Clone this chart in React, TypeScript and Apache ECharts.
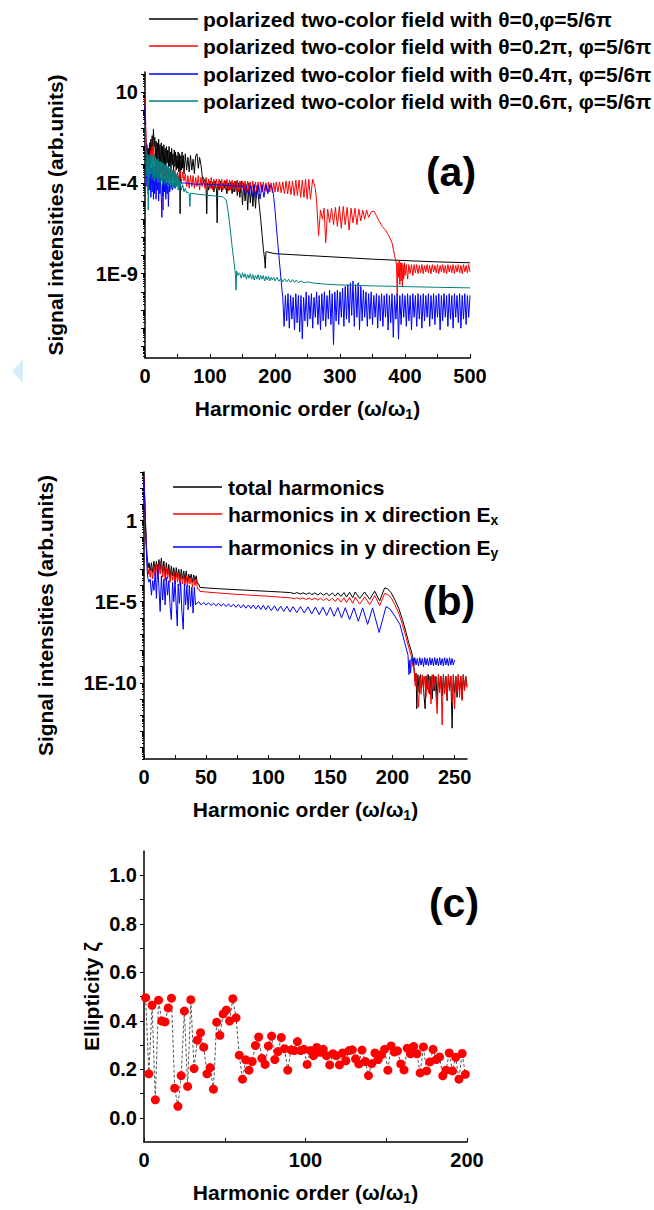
import React, { useEffect, useRef } from "react";
import * as echarts from "echarts";

const FONT = '"Liberation Sans", Arial, Helvetica, sans-serif';

// ================= Panel (a): log10 of signal intensity vs harmonic order =================
const aNames = [
  "polarized two-color field with θ=0,φ=5/6π",
  "polarized two-color field with θ=0.2π, φ=5/6π",
  "polarized two-color field with θ=0.4π, φ=5/6π",
  "polarized two-color field with θ=0.6π, φ=5/6π",
];
const aColors = ["#000000", "#ff0000", "#0000ff", "#008080"];
const aXTicks = [0, 50, 100, 150, 200, 250, 300, 350, 400, 450, 500];
const aXLabels = [0, 100, 200, 300, 400, 500];
const aYLabels = [1, -4, -9];
const aYTicks = [2, 1, 0, -1, -2, -3, -4, -5, -6, -7, -8, -9, -10, -11, -12, -13];

const aLogTheta0 = [
  [0, 0.4], [1, -1.2], [2, -2.7], [3, -1.9], [4, -2.9], [5, -2.1], [6, -3.1], [7, -1.8], [8, -2.8], [9, -1.6],
  [10, -2.6], [11, -1.4], [12, -2.2], [13, -1.05], [14, -2.0], [15, -1.5], [16, -2.6], [17, -1.7], [18, -2.8], [19, -1.8],
  [20, -2.9], [21, -1.6], [22, -3.0], [23, -1.9], [24, -3.2], [25, -1.8], [26, -2.9], [27, -2.0], [28, -3.3], [29, -1.9],
  [30, -3.0], [31, -2.1], [32, -3.4], [33, -2.0], [34, -2.9], [35, -2.2], [36, -3.2], [37, -2.0], [38, -3.1], [39, -2.3],
  [40, -3.3], [41, -2.1], [42, -3.0], [43, -2.4], [44, -3.4], [45, -2.2], [46, -3.1], [47, -2.3], [48, -3.3], [49, -2.5],
  [50, -3.2], [51, -2.3], [52, -3.4], [53, -2.4], [54, -5.7], [55, -2.5], [56, -3.3], [57, -2.3], [58, -3.2], [59, -2.5],
  [60, -3.5], [62, -2.4], [64, -3.3], [66, -2.6], [68, -3.4], [70, -2.5], [72, -3.3], [74, -2.7], [76, -3.5], [78, -2.5],
  [80, -2.4], [82, -3.2], [84, -2.6], [86, -3.0], [88, -3.6], [90, -4.0], [92, -3.8], [94, -4.3], [95, -5.7], [96, -4.0],
  [98, -4.4], [100, -3.9], [102, -4.3], [104, -3.95], [106, -4.5], [108, -3.9], [110, -4.4], [111, -6.2], [112, -4.1], [114, -4.4],
  [116, -3.9], [118, -4.5], [120, -4.0], [122, -4.3], [124, -3.9], [126, -4.6], [128, -4.0], [130, -4.4], [132, -3.95], [134, -4.6],
  [136, -4.0], [138, -4.5], [140, -3.9], [142, -4.7], [144, -4.0], [146, -4.8], [148, -3.9], [150, -5.2], [152, -4.0], [154, -5.0],
  [156, -4.1], [158, -5.5], [160, -4.0], [162, -5.1], [164, -4.2], [166, -5.3], [168, -4.1], [170, -5.4], [172, -4.2], [174, -4.6],
  [176, -5.3], [178, -6.0], [180, -6.8], [182, -7.6], [184, -8.2], [185, -8.7], [186, -7.8], [188, -7.8], [200, -7.9], [225, -7.95],
  [250, -8.0], [300, -8.1], [350, -8.2], [400, -8.28], [450, -8.35], [500, -8.4],
];

const aLogTheta02 = [
  [0, 0.67], [1, -0.6], [2, -2.2], [3, -2.6], [4, -3.2], [5, -2.8], [6, -3.3], [7, -2.4], [8, -3.1], [9, -2.2],
  [10, -2.9], [11, -2.0], [12, -2.6], [13, -1.65], [14, -2.8], [15, -2.4], [16, -3.3], [17, -2.7], [18, -3.5], [19, -2.8],
  [20, -3.4], [21, -3.0], [22, -3.6], [23, -3.0], [24, -3.5], [25, -3.1], [26, -3.7], [27, -3.1], [28, -5.5], [29, -3.2],
  [30, -3.6], [31, -3.1], [32, -3.8], [33, -3.2], [34, -3.6], [35, -3.2], [36, -3.9], [37, -3.3], [38, -3.7], [39, -3.2],
  [40, -3.9], [42, -3.3], [44, -3.8], [46, -3.3], [48, -4.0], [50, -3.4], [52, -3.8], [54, -3.3], [56, -4.0], [58, -3.4],
  [60, -3.9], [62, -3.5], [64, -4.2], [66, -3.6], [68, -4.3], [70, -3.6], [72, -4.2], [74, -3.6], [76, -4.3], [78, -3.7],
  [80, -4.2], [82, -3.6], [84, -4.4], [86, -3.7], [88, -4.2], [90, -3.7], [92, -4.3], [94, -3.7], [96, -4.4], [98, -3.8],
  [100, -4.3], [102, -3.7], [104, -4.4], [106, -3.8], [108, -4.3], [110, -3.8], [112, -4.4], [114, -3.8], [116, -4.3], [118, -3.8],
  [120, -4.4], [122, -3.85], [124, -4.4], [126, -3.8], [128, -4.45], [130, -3.85], [132, -4.4], [134, -3.85], [136, -4.5], [138, -3.9],
  [140, -4.4], [142, -3.85], [144, -4.5], [146, -3.9], [148, -4.4], [150, -3.9], [152, -4.5], [154, -3.9], [156, -4.45], [158, -3.9],
  [160, -4.5], [162, -3.95], [164, -4.45], [166, -3.9], [168, -4.5], [170, -3.95], [172, -4.45], [174, -3.95], [176, -4.5], [178, -3.95],
  [180, -4.5], [182, -3.95], [184, -4.45], [186, -4.0], [188, -4.5], [190, -3.95], [192, -4.5], [194, -4.0], [196, -4.55], [198, -4.0],
  [200, -4.5], [202, -3.95], [204.5, -4.5], [207, -3.95], [209.5, -4.55], [212, -3.95], [214.5, -4.6], [217, -3.9], [219.5, -4.6], [222, -3.9],
  [224.5, -4.65], [227, -3.9], [229.5, -4.7], [232, -3.85], [234.5, -4.7], [237, -3.85], [239.5, -4.8], [242, -3.85], [244.5, -4.8], [247, -3.8],
  [249.5, -4.9], [252, -3.8], [254.5, -4.9], [258, -3.8], [262, -4.3], [264, -5.0], [267, -6.9], [270, -5.5], [273, -6.0], [275.5, -5.4],
  [278, -7.3], [281, -5.45], [284, -6.2], [287, -5.4], [290, -6.3], [293, -5.35], [296, -6.4], [299, -5.3], [302, -6.5], [305, -5.3],
  [308, -6.3], [311, -5.35], [314, -6.6], [317, -5.4], [320, -6.2], [323, -5.4], [326, -6.3], [329, -5.45], [332, -6.1], [335, -5.5],
  [338, -6.0], [341, -5.5], [344, -5.9], [348, -5.6], [352, -5.55], [356, -5.8], [360, -6.1], [365, -6.4], [370, -6.6], [375, -6.9],
  [380, -7.3], [384, -8.0], [387, -8.5], [388, -10.2], [389, -8.4], [390, -9.2], [391, -8.3], [392, -9.6], [393, -8.4], [394, -9.4],
  [395, -8.4], [396, -9.7], [397, -8.5], [398, -9.3], [399, -8.4], [400, -9.1], [402, -8.5], [404, -9.3], [406, -8.5], [408, -9.0],
  [410, -8.5], [412, -9.1], [414, -8.5], [416, -8.95], [418, -8.5], [420, -9.0], [422, -8.55], [424, -8.95], [426, -8.5], [428, -9.0],
  [430, -8.55], [432, -8.9], [434, -8.5], [436, -8.95], [438, -8.55], [440, -9.0], [442, -8.5], [444, -8.9], [446, -8.55], [448, -8.95],
  [450, -8.5], [452, -9.0], [454, -8.55], [456, -8.9], [458, -8.5], [460, -8.95], [462, -8.55], [464, -9.0], [466, -8.5], [468, -8.9],
  [470, -8.55], [472, -8.95], [474, -8.5], [476, -9.0], [478, -8.55], [480, -8.9], [482, -8.5], [484, -8.95], [486, -8.55], [488, -9.0],
  [490, -8.5], [492, -8.9], [494, -8.55], [496, -8.95], [498, -8.5], [500, -8.9],
];

const aLogTheta04 = [
  [0, 0.2], [1, -1.5], [2, -3.0], [3, -4.2], [4, -3.3], [5, -4.6], [6, -3.1], [7, -4.4], [8, -2.9], [9, -4.8],
  [10, -3.2], [11, -4.5], [12, -3.0], [13, -4.9], [14, -3.4], [15, -4.6], [16, -3.3], [17, -4.9], [18, -3.5], [19, -4.4],
  [20, -3.6], [21, -5.0], [22, -3.5], [23, -4.6], [24, -3.7], [25, -4.8], [26, -5.9], [27, -3.8], [28, -4.7], [29, -3.7],
  [30, -4.5], [31, -3.8], [32, -4.9], [33, -3.9], [34, -4.6], [35, -3.9], [36, -5.3], [37, -4.0], [38, -4.5], [40, -4.0],
  [42, -4.4], [44, -4.0], [46, -4.3], [50, -4.05], [60, -4.0], [70, -4.05], [80, -4.08], [90, -4.06], [100, -4.1], [110, -4.1],
  [120, -4.13], [130, -4.15], [140, -4.18], [145, -4.2], [150, -4.15], [153, -4.55], [156, -4.15], [159, -4.65], [162, -4.15], [165, -4.75],
  [168, -4.12], [171, -4.85], [174, -4.12], [177, -4.9], [180, -4.1], [183, -4.8], [186, -4.1], [189, -4.6], [192, -4.1], [195, -4.25],
  [197.5, -4.6], [200, -5.5], [203, -6.8], [206, -8.0], [209, -9.2], [211, -10.0],
  [212, -10.3], [214, -11.9], [216, -10.2], [218, -11.6], [220, -10.1], [222, -12.0], [224, -10.2], [226, -11.5], [228, -10.3], [230, -12.1],
  [232, -10.1], [234, -11.7], [236, -10.2], [238, -12.2], [240, -10.2], [242, -12.6], [244, -10.3], [246, -11.6], [248, -10.0], [250, -11.9],
  [252, -10.2], [254, -11.5], [256, -10.1], [258, -12.0], [260, -10.3], [262, -11.4], [264, -10.0], [266, -11.8], [268, -10.2], [270, -12.1],
  [272, -10.1], [274, -11.6], [276, -10.0], [278, -11.9], [280, -10.2], [282, -11.5], [284, -9.9], [286, -11.8], [288, -10.1], [290, -12.9],
  [292, -10.0], [294, -11.6], [296, -9.9], [298, -11.8], [300, -10.0], [302, -11.4], [304, -9.8], [306, -11.9], [308, -9.7], [310, -11.5],
  [312, -9.6], [314, -11.7], [316, -9.5], [318, -11.3], [320, -9.4], [322, -11.9], [324, -9.6], [326, -11.4], [328, -9.5], [330, -12.1],
  [332, -9.7], [334, -11.6], [336, -9.9], [338, -11.4], [340, -10.0], [342, -11.9], [344, -10.1], [346, -11.5], [348, -10.0], [350, -11.8],
  [352, -10.2], [354, -11.4], [356, -10.1], [358, -12.0], [360, -10.2], [362, -11.6], [364, -10.1], [366, -11.9], [368, -10.2], [370, -11.4],
  [372, -10.1], [374, -12.1], [376, -10.2], [378, -11.7], [380, -10.1], [382, -12.5], [384, -10.2], [386, -11.5], [388, -10.1], [390, -12.6],
  [392, -10.2], [394, -11.8], [396, -10.1], [398, -11.4], [400, -10.2], [402, -11.9], [404, -10.1], [406, -11.6], [408, -10.2], [410, -12.1],
  [412, -10.1], [414, -11.4], [416, -10.2], [418, -11.9], [420, -10.1], [422, -11.5], [424, -10.2], [426, -12.0], [428, -10.1], [430, -11.6],
  [432, -10.2], [434, -11.4], [436, -10.1], [438, -11.9], [440, -10.2], [442, -11.5], [444, -10.1], [446, -11.8], [448, -10.2], [450, -11.4],
  [452, -10.1], [454, -12.1], [456, -10.2], [458, -11.6], [460, -10.1], [462, -11.4], [464, -10.2], [466, -11.9], [468, -10.1], [470, -11.5],
  [472, -10.2], [474, -12.0], [476, -10.1], [478, -11.4], [480, -10.2], [482, -11.7], [484, -10.1], [486, -12.0], [488, -10.2], [490, -11.5],
  [492, -10.1], [494, -11.8], [496, -10.2], [498, -11.4], [500, -10.2],
];

const aLogTheta06 = [
  [0, -0.8], [1, -2.0], [2, -2.5], [3, -3.6], [4, -2.4], [5, -5.5], [6, -2.5], [7, -3.7], [8, -2.45], [9, -3.5],
  [10, -2.4], [11, -3.8], [12, -2.5], [13, -3.6], [14, -2.45], [15, -3.9], [16, -2.6], [17, -3.7], [18, -2.7], [19, -4.0],
  [20, -2.7], [21, -3.8], [22, -2.8], [23, -4.0], [24, -2.8], [25, -3.9], [26, -2.9], [27, -4.1], [28, -2.9], [29, -3.9],
  [30, -3.0], [31, -4.1], [32, -3.0], [33, -4.0], [34, -3.1], [35, -4.2], [36, -3.1], [37, -4.0], [38, -3.2], [39, -4.2],
  [40, -3.2], [41, -4.1], [42, -3.3], [43, -4.3], [44, -3.3], [45, -4.2], [46, -3.4], [47, -4.3], [48, -3.5], [49, -4.2],
  [50, -3.6], [51, -4.4], [52, -3.7], [53, -4.3], [54, -3.9], [56, -4.4], [58, -4.1], [60, -4.5], [62, -4.3], [64, -4.55],
  [66, -4.5], [68, -4.6], [69, -5.3], [70, -4.57], [80, -4.62], [90, -4.66], [100, -4.7], [110, -4.73], [120, -4.77], [125, -4.95],
  [128, -5.6], [131, -6.5], [134, -7.5], [137, -8.4], [139, -9.0], [140, -9.9], [141, -8.85], [143, -9.1], [145, -8.95], [146, -9.0],
  [148, -9.25], [150, -8.95], [152, -9.2], [154, -9.0], [156, -9.3], [158, -9.05], [160, -9.25], [162, -9.0], [164, -9.3], [166, -9.05],
  [168, -9.35], [170, -9.1], [172, -9.3], [174, -9.05], [176, -9.35], [178, -9.1], [180, -9.3], [182, -9.1], [184, -9.4], [186, -9.15],
  [188, -9.35], [190, -9.15], [192, -9.4], [194, -9.2], [196, -9.35], [198, -9.2], [200, -9.4], [203, -9.2], [206, -9.42], [209, -9.25],
  [212, -9.45], [215, -9.28], [218, -9.45], [221, -9.3], [224, -9.47], [227, -9.32], [230, -9.48], [233, -9.35], [236, -9.5], [240, -9.4],
  [245, -9.5], [250, -9.45], [260, -9.52], [270, -9.55], [280, -9.58], [300, -9.62], [350, -9.67], [400, -9.71], [450, -9.75], [500, -9.78],
];

// ================= Panel (b) =================
const bNames = ["total harmonics", "harmonics in x direction E", "harmonics in y direction E"];
const bSubs = ["", "x", "y"];
const bColors = ["#000000", "#ff0000", "#0000ff"];
const bXTicks = [0, 25, 50, 75, 100, 125, 150, 175, 200, 225, 250];
const bXLabels = [0, 50, 100, 150, 200, 250];
const bYLabels = [0, -5, -10];
const bYTicks = [3, 2, 1, 0, -1, -2, -3, -4, -5, -6, -7, -8, -9, -10, -11, -12, -13, -14];

const bLogTotal = [
  [0, 2.7], [0.5, 1.6], [1, 0.4], [1.5, -0.7], [2, -1.6], [2.5, -2.2], [3, -2.6], [3.5, -2.9], [4, -2.6], [5, -3.1],
  [6, -2.6], [7, -3.2], [8, -2.5], [9, -3.1], [10, -2.5], [11, -3.3], [12, -2.4], [13, -3.0], [14, -2.3], [15, -3.2],
  [16, -2.5], [17, -3.4], [18, -2.6], [19, -3.3], [20, -2.7], [21, -3.5], [22, -2.8], [23, -3.4], [24, -2.9], [25, -3.6],
  [26, -2.9], [27, -3.5], [28, -3.0], [29, -3.7], [30, -3.0], [31, -3.6], [32, -3.1], [33, -3.7], [34, -3.1], [35, -3.8],
  [36, -3.3], [37, -3.6], [38, -3.3], [39, -3.8], [40, -3.35], [41, -3.7], [42, -3.4], [43, -3.9], [44, -3.9], [45, -4.12],
  [50, -4.15], [60, -4.2], [70, -4.24], [80, -4.28], [90, -4.32], [100, -4.36], [110, -4.4], [118, -4.44], [121, -4.5], [123, -4.44],
  [126, -4.52], [128, -4.45], [130.5, -4.54], [133, -4.45], [135, -4.56], [137.5, -4.46], [140, -4.58], [142, -4.46], [144.5, -4.6], [147, -4.46],
  [149, -4.63], [151.5, -4.46], [154, -4.65], [156, -4.45], [158.5, -4.68], [161, -4.44], [163, -4.71], [165.5, -4.42], [168, -4.75], [170, -4.4],
  [173.6, -4.8], [177.6, -4.4], [181.7, -4.85], [185.7, -4.35], [189.7, -4.95], [193.7, -4.15], [196, -4.2], [199, -4.45], [202, -4.9], [205, -5.4],
  [208, -6.1], [211, -6.9], [213, -7.5], [215, -8.0], [217, -8.6], [218, -9.9], [219, -9.4], [219.6, -11.6], [220.5, -9.5], [221.5, -10.6],
  [222.5, -9.5], [223.5, -10.3], [224.5, -9.6], [225.5, -10.9], [226.3, -11.6], [227, -9.6], [228, -10.4], [229, -9.5], [230, -10.7], [231, -9.6],
  [232, -11.0], [233, -9.5], [234, -10.5], [235, -9.6], [236, -11.2], [237, -9.5], [238, -10.4], [239, -9.6], [240, -10.8], [241, -9.5],
  [242, -10.5], [243, -9.6], [244, -11.1], [245, -9.5], [246, -10.4], [247, -9.6], [248, -12.8], [249, -9.5], [250, -10.6], [251, -9.6],
  [252, -10.9], [253, -9.5], [254, -10.5], [255, -9.6], [256, -11.0], [257, -9.5], [258, -10.4], [259, -9.6], [260, -10.2],
];

const bLogEx = [
  [0, 2.7], [0.5, 1.5], [1, 0.3], [1.5, -0.9], [2, -1.8], [2.5, -2.5], [3, -2.9], [3.5, -3.3], [4, -3.0], [5, -3.5],
  [6, -2.9], [7, -3.6], [8, -2.8], [9, -3.4], [10, -2.7], [11, -3.6], [12, -2.65], [13, -3.3], [14, -2.6], [15, -3.5],
  [16, -2.8], [17, -3.7], [18, -2.9], [19, -3.6], [20, -3.0], [21, -3.8], [22, -3.1], [23, -3.7], [24, -3.2], [25, -3.9],
  [26, -3.2], [27, -3.8], [28, -3.3], [29, -4.0], [30, -3.3], [31, -3.9], [32, -3.4], [33, -4.0], [34, -3.4], [35, -4.1],
  [36, -3.5], [37, -3.9], [38, -3.5], [39, -4.1], [40, -3.55], [41, -4.0], [42, -3.6], [43, -4.2], [44, -4.2], [45, -4.36],
  [50, -4.4], [60, -4.46], [70, -4.52], [80, -4.57], [90, -4.62], [100, -4.66], [110, -4.72], [118, -4.76], [121, -4.82], [123, -4.76],
  [126, -4.84], [128, -4.77], [130.5, -4.86], [133, -4.77], [135, -4.88], [137.5, -4.78], [140, -4.9], [142, -4.78], [144.5, -4.93], [147, -4.78],
  [149, -4.96], [151.5, -4.78], [154, -4.98], [156, -4.77], [158.5, -5.02], [161, -4.76], [163, -5.05], [165.5, -4.74], [168, -5.1], [170, -4.72],
  [173.6, -5.15], [177.6, -4.7], [181.7, -5.18], [185.7, -4.62], [189.7, -5.25], [193.7, -4.49], [196, -4.55], [199, -4.75], [202, -5.2], [205, -5.7],
  [208, -6.4], [211, -7.2], [213, -7.8], [215, -8.3], [216.5, -9.0], [217.5, -9.2], [218.3, -10.2], [219, -9.5], [220, -10.5], [221, -11.5],
  [222, -9.6], [223, -10.7], [224, -9.5], [225, -10.4], [226, -9.6], [227, -10.9], [228, -9.5], [229, -10.6], [230, -9.6], [231, -11.3],
  [232, -9.5], [233, -10.5], [234, -9.6], [235, -10.8], [236, -11.9], [237, -9.5], [238, -10.6], [239, -9.6], [240, -12.6], [241, -9.5],
  [242, -10.7], [243, -9.6], [244, -11.0], [245, -9.5], [246, -10.5], [247, -9.6], [248, -11.2], [249, -9.5], [250, -11.6], [251, -9.6],
  [252, -10.6], [253, -9.5], [254, -10.9], [255, -9.6], [256, -11.1], [257, -9.5], [258, -10.5], [259, -9.6], [260, -10.3],
];

const bLogEy = [
  [0, 2.6], [0.5, 1.4], [1, 0.2], [1.5, -1.0], [2, -2.0], [2.5, -3.0], [3, -3.5], [4, -3.8], [5, -3.6], [6, -4.6],
  [7, -3.7], [8, -4.3], [9, -3.2], [10, -4.8], [11, -2.7], [12, -4.1], [13, -5.6], [14, -3.4], [15, -4.9], [16, -3.6],
  [17, -5.2], [18, -3.5], [19, -4.6], [20, -3.7], [21, -5.3], [22, -6.1], [23, -3.8], [24, -5.0], [25, -3.7], [26, -5.4],
  [26.8, -6.5], [27.5, -3.9], [28.5, -5.1], [29.5, -3.8], [30.5, -5.6], [31.6, -6.7], [32.5, -3.9], [33.5, -5.2], [34.5, -4.0], [35.5, -5.5],
  [36.5, -4.0], [37.5, -5.3], [38.5, -4.1], [39.5, -5.7], [40.5, -4.1], [41.5, -5.2], [42.3, -5.1], [44, -5.0], [46, -5.2], [48, -5.05],
  [50, -5.2], [52, -5.08], [54, -5.22], [56, -5.1], [58, -5.25], [60, -5.1], [62, -5.27], [64, -5.12], [66, -5.3], [68, -5.13],
  [70, -5.32], [72, -5.15], [74, -5.35], [76, -5.17], [78, -5.38], [80, -5.18], [82, -5.4], [84, -5.2], [86, -5.42], [88, -5.2],
  [90, -5.45], [92, -5.22], [94, -5.48], [96, -5.22], [98, -5.5], [100, -5.25], [102.5, -5.55], [105, -5.25], [107.5, -5.58], [110, -5.27],
  [112.5, -5.6], [115, -5.28], [117.5, -5.63], [120, -5.3], [123, -5.67], [126, -5.3], [129, -5.7], [132, -5.32], [135, -5.75], [138, -5.33],
  [141, -5.8], [144, -5.34], [147, -5.85], [150, -5.35], [153, -5.9], [156, -5.36], [159, -6.0], [162, -5.37], [165.5, -6.1], [169, -5.38],
  [172.5, -6.2], [176, -5.38], [180, -6.4], [184, -5.38], [189.3, -6.9], [194.8, -5.3], [198, -5.45], [202, -5.9], [206, -6.4], [209.8, -7.5],
  [212.5, -8.3], [213.3, -9.5], [214, -8.6], [214.6, -9.4], [215.2, -8.5], [216, -8.5], [217, -8.95], [218, -8.45], [219, -8.9], [220, -8.5],
  [221, -8.95], [222, -8.45], [223, -8.9], [224, -8.5], [225, -9.0], [226, -8.45], [227, -8.9], [228, -8.5], [229, -8.95], [230, -8.45],
  [231, -8.9], [232, -8.5], [233, -8.95], [234, -8.45], [235, -8.9], [236, -8.5], [237, -8.95], [238, -8.45], [239, -8.9], [240, -8.5],
  [241, -8.95], [242, -8.45], [243, -8.9], [244, -8.5], [245, -8.95], [246, -8.45], [247, -8.9], [248, -8.5], [249, -8.9], [250, -8.6],
];

// ================= Panel (c): ellipticity =================
const cOrders = [
  1, 3, 5, 7, 9, 11, 13, 15, 17, 19, 21, 23, 25, 27, 29, 31, 33, 35, 37, 39,
  41, 43, 45, 47, 49, 51, 53, 55, 57, 59, 61, 63, 65, 67, 69, 71, 73, 75, 77, 79,
  81, 83, 85, 87, 89, 91, 93, 95, 97, 99, 101, 103, 105, 107, 109, 111, 113, 115, 117, 119,
  121, 123, 125, 127, 129, 131, 133, 135, 137, 139, 141, 143, 145, 147, 149, 151, 153, 155, 157, 159,
  161, 163, 165, 167, 169, 171, 173, 175, 177, 179, 181, 183, 185, 187, 189, 191, 193, 195, 197, 199,
];
const cEllipticity = [
  0.495, 0.181, 0.464, 0.074, 0.485, 0.399, 0.395, 0.453, 0.493, 0.122,
  0.047, 0.174, 0.44, 0.129, 0.487, 0.203, 0.32, 0.351, 0.291, 0.181,
  0.207, 0.118, 0.394, 0.34, 0.428, 0.444, 0.399, 0.491, 0.412, 0.258,
  0.159, 0.239, 0.196, 0.232, 0.298, 0.333, 0.245, 0.22, 0.296, 0.337,
  0.24, 0.273, 0.331, 0.285, 0.196, 0.28, 0.277, 0.314, 0.277, 0.282,
  0.22, 0.277, 0.256, 0.29, 0.27, 0.282, 0.256, 0.218, 0.264, 0.256,
  0.218, 0.267, 0.235, 0.277, 0.28, 0.243, 0.222, 0.279, 0.232, 0.174,
  0.223, 0.267, 0.24, 0.26, 0.282, 0.196, 0.296, 0.271, 0.276, 0.222,
  0.197, 0.287, 0.264, 0.294, 0.264, 0.185, 0.292, 0.193, 0.23, 0.282,
  0.24, 0.251, 0.173, 0.196, 0.267, 0.193, 0.249, 0.159, 0.265, 0.179,
];
const cXTicks = [0, 50, 100, 150, 200];
const cXLabels = [0, 100, 200];
const cYLabels = [0, 0.2, 0.4, 0.6, 0.8, 1.0];
const cYTicks = [0, 0.1, 0.2, 0.3, 0.4, 0.5, 0.6, 0.7, 0.8, 0.9, 1.0];

// ================= helpers =================
const logMinorTicks = (lo: number, hi: number) => {
  const out: number[] = [];
  for (let n = Math.floor(lo); n <= Math.ceil(hi); n++) {
    for (let k = 2; k <= 9; k++) {
      const v = n + Math.log10(k);
      if (v > lo && v < hi) out.push(v);
    }
  }
  return out;
};
const expLabel = (v: number) => (v === 0 ? "1" : v === 1 ? "10" : "1E" + v);

const labelStyle = { fontSize: 20, fontWeight: "bold", fontFamily: FONT, color: "#000" };
const nameStyle = {
  fontSize: 21,
  fontWeight: "bold",
  fontFamily: FONT,
  color: "#000",
  rich: { sub: { fontSize: 14, fontWeight: "bold", fontFamily: FONT, color: "#000", padding: [12, 0, 0, 0] } },
};
const axisLineStyle = { show: true, onZero: false, lineStyle: { color: "#000", width: 1.5 } };

function xAxisDef(gridIndex: number, max: number, ticks: number[], labels: number[]) {
  return {
    gridIndex,
    type: "value",
    min: 0,
    max,
    name: "Harmonic order (ω/ω{sub|1})",
    nameLocation: "middle",
    nameGap: 37,
    nameTextStyle: nameStyle,
    axisLine: axisLineStyle,
    axisTick: { show: true, inside: true, length: 4, customValues: ticks, lineStyle: { color: "#000", width: 1 } },
    axisLabel: { ...labelStyle, margin: 8, customValues: labels },
    splitLine: { show: false },
  };
}

function yLogAxisDef(gridIndex: number, min: number, max: number, ticks: number[], labels: number[], gap: number) {
  return {
    gridIndex,
    type: "value",
    min,
    max,
    name: "Signal intensities (arb.units)",
    nameLocation: "middle",
    nameRotate: 90,
    nameGap: gap,
    nameTextStyle: nameStyle,
    axisLine: axisLineStyle,
    axisTick: { show: true, length: 4, customValues: ticks, lineStyle: { color: "#000", width: 1 } },
    axisLabel: { ...labelStyle, margin: 7, customValues: labels, formatter: expLabel },
    splitLine: { show: false },
  };
}

function yMinorAxisDef(gridIndex: number, min: number, max: number) {
  return {
    gridIndex,
    type: "value",
    min,
    max,
    position: "left",
    axisLine: { show: false, onZero: false },
    axisTick: { show: true, length: 2, customValues: logMinorTicks(min, max), lineStyle: { color: "#000", width: 1 } },
    axisLabel: { show: false },
    splitLine: { show: false },
  };
}

function lineSeries(data: number[][], color: string, xi: number, yi: number, z: number) {
  return {
    type: "line",
    xAxisIndex: xi,
    yAxisIndex: yi,
    data,
    showSymbol: false,
    symbol: "none",
    silent: true,
    clip: true,
    z,
    lineStyle: { width: 1, color },
    itemStyle: { color },
  };
}

function legendGraphics(names: string[], subs: string[], colors: string[], x1: number, x2: number, tx: number, ys: number[]) {
  const els: any[] = [];
  names.forEach((n, i) => {
    els.push({
      type: "line",
      shape: { x1, y1: ys[i], x2, y2: ys[i] },
      style: { stroke: colors[i], lineWidth: 1.5 },
    });
    els.push({
      type: "text",
      x: tx,
      y: ys[i],
      style: {
        text: subs[i] ? n + "{sub|" + subs[i] + "}" : n,
        fill: "#000",
        fontSize: 21,
        fontWeight: "bold",
        fontFamily: FONT,
        textAlign: "left",
        textVerticalAlign: "middle",
        rich: { sub: { fontSize: 14, fontWeight: "bold", fontFamily: FONT, fill: "#000", padding: [12, 0, 0, 0] } },
      },
    });
  });
  return els;
}

function panelLabel(text: string, x: number, y: number) {
  return {
    type: "text",
    x,
    y,
    style: {
      text,
      fill: "#000",
      fontSize: 41,
      fontWeight: "bold",
      fontFamily: FONT,
      textAlign: "center",
      textVerticalAlign: "middle",
    },
  };
}

export default function App() {
  const ref = useRef<HTMLDivElement>(null);

  useEffect(() => {
    document.body.style.margin = "0";
    if (!ref.current) return;
    const chart = echarts.init(ref.current, undefined, { renderer: "svg" });

    const A_MIN = -13.64, A_MAX = 2.1;
    const B_MIN = -14.7, B_MAX = 3.0;

    const option: any = {
      animation: false,
      backgroundColor: "#ffffff",
      grid: [
        { left: 145, top: 72, width: 325, height: 286, outerBoundsMode: "none" },
        { left: 144, top: 472, width: 323, height: 287, outerBoundsMode: "none" },
        { left: 144, top: 851, width: 323, height: 291, outerBoundsMode: "none" },
      ],
      xAxis: [
        xAxisDef(0, 500, aXTicks, aXLabels),
        xAxisDef(1, 260, bXTicks, bXLabels),
        xAxisDef(2, 200, cXTicks, cXLabels),
      ],
      yAxis: [
        yLogAxisDef(0, A_MIN, A_MAX, aYTicks, aYLabels, 79),
        yLogAxisDef(1, B_MIN, B_MAX, bYTicks, bYLabels, 88),
        {
          gridIndex: 2,
          type: "value",
          min: -0.1,
          max: 1.1,
          name: "Ellipticity ζ",
          nameLocation: "middle",
          nameRotate: 90,
          nameGap: 42,
          nameTextStyle: nameStyle,
          axisLine: axisLineStyle,
          axisTick: { show: true, length: 4, customValues: cYTicks, lineStyle: { color: "#000", width: 1 } },
          axisLabel: { ...labelStyle, margin: 7, customValues: cYLabels, formatter: (v: number) => v.toFixed(1) },
          splitLine: { show: false },
        },
        yMinorAxisDef(0, A_MIN, A_MAX),
        yMinorAxisDef(1, B_MIN, B_MAX),
      ],
      series: [
        lineSeries(aLogTheta0, aColors[0], 0, 0, 2),
        lineSeries(aLogTheta02, aColors[1], 0, 0, 3),
        lineSeries(aLogTheta04, aColors[2], 0, 0, 4),
        lineSeries(aLogTheta06, aColors[3], 0, 0, 5),
        lineSeries(bLogTotal, bColors[0], 1, 1, 2),
        lineSeries(bLogEx, bColors[1], 1, 1, 3),
        lineSeries(bLogEy, bColors[2], 1, 1, 4),
        {
          type: "line",
          xAxisIndex: 2,
          yAxisIndex: 2,
          data: cOrders.map((o, i) => [o, cEllipticity[i]]),
          symbol: "circle",
          symbolSize: 9,
          showSymbol: true,
          silent: true,
          clip: true,
          itemStyle: { color: "#ff0000", borderWidth: 0 },
          lineStyle: { color: "#555555", width: 1, type: [3, 2] },
          z: 3,
        },
      ],
      graphic: [
        { type: "polygon", shape: { points: [[12, 371], [23, 359], [23, 383]] }, style: { fill: "#d6ecf8" } },
        ...legendGraphics(aNames, ["", "", "", ""], aColors, 149, 198, 203, [19, 46, 74, 101]),
        ...legendGraphics(bNames, bSubs, bColors, 173, 222, 228, [487, 514, 547]),
        panelLabel("(a)", 451, 172),
        panelLabel("(b)", 449, 601),
        panelLabel("(c)", 454, 903),
      ],
    };

    chart.setOption(option);
    return () => chart.dispose();
  }, []);

  return <div ref={ref} style={{ position: "absolute", left: 0, top: 0, width: 654, height: 1210 }} />;
}
